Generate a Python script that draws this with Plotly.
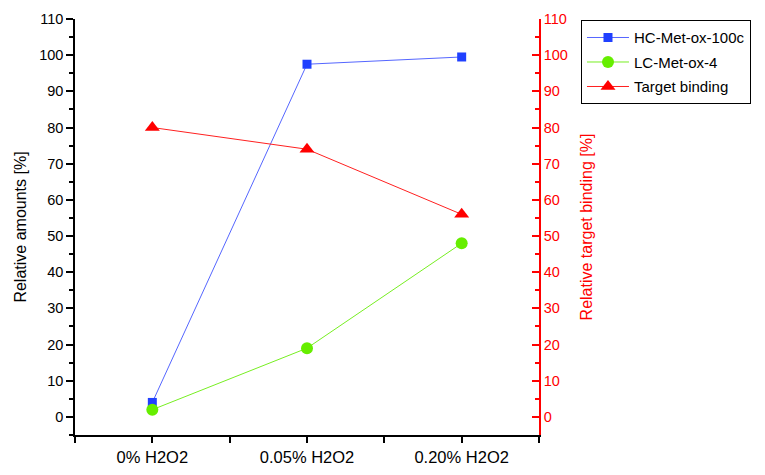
import plotly.graph_objects as go

categories = ["0% H2O2", "0.05% H2O2", "0.20% H2O2"]
hc_met_ox_100c = [4.0, 97.5, 99.5]
lc_met_ox_4 = [2.0, 19.0, 48.0]
target_binding = [80.0, 74.0, 56.0]
y_ticks = [0, 10, 20, 30, 40, 50, 60, 70, 80, 90, 100, 110]

xpos = list(range(len(categories)))
FONT = "Liberation Sans, Arial, sans-serif"

fig = go.Figure()
fig.add_trace(go.Scatter(
    x=xpos, y=hc_met_ox_100c, name="HC-Met-ox-100c", mode="lines+markers",
    line=dict(color="#5566ff", width=1), legendgroup="a",
    marker=dict(symbol="square", size=9, color="#2040ff"),
))
fig.add_trace(go.Scatter(
    x=xpos, y=lc_met_ox_4, name="LC-Met-ox-4", mode="lines+markers",
    line=dict(color="#77ee22", width=1), legendgroup="b",
    marker=dict(symbol="circle", size=12, color="#66ee00"),
))
fig.add_trace(go.Scatter(
    x=xpos, y=target_binding, name="Target binding", mode="lines+markers",
    line=dict(color="#ff2020", width=1), legendgroup="c",
    marker=dict(symbol="triangle-up", size=13, color="#ff0000"),
    yaxis="y2",
))

half_ticks = [i * 0.5 - 0.5 for i in range(2 * len(categories) + 1)]
half_text = [categories[int(v)] if v == int(v) and v >= 0 else "" for v in half_ticks]

fig.update_layout(
    width=757, height=467,
    paper_bgcolor="white", plot_bgcolor="white",
    margin=dict(l=67, r=226, t=11, b=40, autoexpand=False),
    font=dict(family=FONT, size=14, color="black"),
    showlegend=True,
    legend=dict(
        x=1.0905, y=0.997, xanchor="left", yanchor="top",
        bordercolor="black", borderwidth=1, bgcolor="white",
        font=dict(size=15, family=FONT), tracegroupgap=2, itemwidth=42,
    ),
    xaxis=dict(
        range=[-0.5, 2.5], tickvals=half_ticks, ticktext=half_text, automargin=False,
        showgrid=False, zeroline=False, showline=True, linecolor="black", linewidth=1.5,
        ticks="outside", ticklen=6, tickwidth=1.5, tickcolor="black",
        tickfont=dict(size=16.5), fixedrange=True,
    ),
    yaxis=dict(
        range=[-5, 110], tickvals=y_ticks, automargin=False,
        showgrid=False, zeroline=False, showline=True, linecolor="black", linewidth=1.5,
        ticks="outside", ticklen=7, tickwidth=1.5, tickcolor="black",
        minor=dict(dtick=5, tick0=5, ticks="outside", ticklen=4, tickcolor="black", tickwidth=1.5),
        tickfont=dict(size=14.5),
        title=dict(text="Relative amounts [%]", font=dict(size=16), standoff=9),
    ),
    yaxis2=dict(
        range=[-5, 110], tickvals=y_ticks, overlaying="y", side="right", anchor="x",
        automargin=False,
        showgrid=False, zeroline=False, showline=True, linecolor="#ff0000", linewidth=1.5,
        ticks="inside", ticklen=7, tickwidth=1.5, tickcolor="#ff0000",
        minor=dict(dtick=5, tick0=5, ticks="inside", ticklen=4, tickcolor="#ff0000", tickwidth=1.5),
        tickfont=dict(size=14.5, color="#ff0000"),
        title=dict(text="Relative target binding [%]", font=dict(size=16, color="#ff0000"), standoff=14),
    ),
)

fig.write_html("out.html")
